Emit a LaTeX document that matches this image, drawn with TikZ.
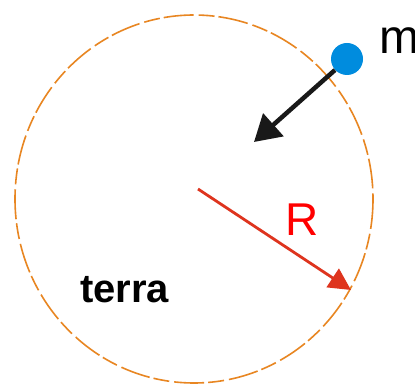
\documentclass[tikz,border=0pt]{standalone}
\usepackage{fontspec}
\setmainfont{Liberation Sans}
\usetikzlibrary{arrows.meta}
\definecolor{orng}{RGB}{232,134,34}
\definecolor{arrred}{RGB}{222,52,30}
\definecolor{dotblue}{RGB}{0,140,222}
\tikzset{
  earth/.style={draw=orng, line width=1.6pt, dash pattern=on 30pt off 5pt on 16pt off 4pt},
  forcearrow/.style={line width=4.5pt, black!90, -{Triangle[length=26pt,width=30pt]}},
  radiusarrow/.style={line width=2.8pt, arrred, -{Triangle[length=22pt,width=22pt]}},
  lbl/.style={inner sep=0pt, anchor=south west}
}
\begin{document}
\begin{tikzpicture}[x=1pt,y=-1pt]
\useasboundingbox (0,0) rectangle (415,387);
\fill[white] (0,0) rectangle (415,387);
\draw[earth] (194,199) ellipse [x radius=179, y radius=184];
\coordinate (c) at (198,189);
\coordinate (redtip) at (351,290);
\coordinate (blacktip) at (254,142);
\node[circle, fill=dotblue, minimum size=32pt, inner sep=0pt] (dot) at (347,59) {};
\draw[forcearrow] (dot.center) ++(-12,11) -- (blacktip);
\draw[radiusarrow] (c) -- (redtip);
\node[lbl, font=\fontsize{46}{46}\selectfont, text=red] (R) at (285,236) {R};
\node[lbl, font=\fontsize{40}{40}\bfseries\selectfont] (terra) at (80,303) {terra};
\node[lbl, font=\fontsize{48}{48}\selectfont] (m) at (379,54) {m};
\end{tikzpicture}
\end{document}
